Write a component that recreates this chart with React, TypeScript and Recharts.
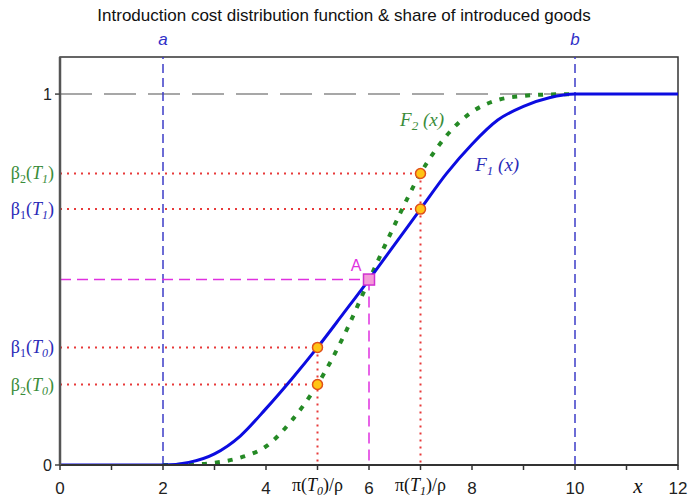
import React from 'react';
import {
  ComposedChart,
  Line,
  XAxis,
  YAxis,
  ReferenceLine,
  ReferenceDot,
  ReferenceArea,
} from 'recharts';

// ---- data ----
const xValues = [0, 1, 2, 2.5, 3, 3.5, 4, 4.5, 5, 5.5, 6, 6.5, 7, 7.5, 8, 8.5, 9, 9.5, 10, 11, 12];
const f1Values = [0, 0, 0, 0.007, 0.03, 0.078, 0.152, 0.232, 0.317, 0.408, 0.5, 0.595, 0.69, 0.785, 0.865, 0.93, 0.967, 0.99, 1, 1, 1];
const f2Values = [null, null, 0, 0.001, 0.006, 0.02, 0.05, 0.12, 0.217, 0.345, 0.498, 0.648, 0.786, 0.887, 0.952, 0.984, 0.995, 0.999, 1, null, null];

const xTicks = [0, 1, 2, 3, 4, 5, 6, 7, 8, 9, 10, 11, 12];
const yTicks = [0, 1];

const boundX = [2, 10];
const boundLabels = ['a', 'b'];

const costX = [5, 7];
const costSubs = ['0', '1'];
const beta1 = [0.317, 0.69];
const beta2 = [0.217, 0.786];

const pointA = { x: 6, y: 0.5 };

const TITLE = 'Introduction cost distribution function & share of introduced goods';

const data = xValues.map((x, i) => ({ x, f1: f1Values[i], f2: f2Values[i] }));

const SERIF = "'Liberation Serif', 'Times New Roman', serif";
const SANS = "'Liberation Sans', Arial, sans-serif";
const BLUE_TXT = '#2a2ab8';
const GREEN_TXT = '#3a8c3a';
const RED = '#e83a3a';
const MAGENTA = '#e030e0';

const betaLabel = (idx: string, sub: string, color: string) => (props: any) => {
  const vb = props.viewBox || {};
  const x = vb.x - 6;
  const y = vb.y + 6;
  return (
    <text x={x} y={y} textAnchor="end" fill={color} fontFamily={SERIF} fontSize={18}>
      <tspan>β</tspan>
      <tspan fontSize={12} dy={4}>{idx}</tspan>
      <tspan dy={-4}>(</tspan>
      <tspan fontStyle="italic">T</tspan>
      <tspan fontSize={12} fontStyle="italic" dy={4}>{sub}</tspan>
      <tspan dy={-4}>)</tspan>
    </text>
  );
};

const piLabel = (sub: string) => (props: any) => {
  const vb = props.viewBox || {};
  const x = vb.x + (vb.width || 0) / 2;
  const y = vb.y + (vb.height || 0) + 26;
  return (
    <text x={x} y={y} textAnchor="middle" fill="#111" fontFamily={SERIF} fontSize={18}>
      <tspan>π(</tspan>
      <tspan fontStyle="italic">T</tspan>
      <tspan fontSize={12} fontStyle="italic" dy={4}>{sub}</tspan>
      <tspan dy={-4}>)/ρ</tspan>
    </text>
  );
};

const boundLabel = (txt: string) => (props: any) => {
  const vb = props.viewBox || {};
  const x = vb.x + (vb.width || 0) / 2;
  const y = vb.y - 12;
  return (
    <text x={x} y={y} textAnchor="middle" fill="#3030c8" fontFamily={SANS} fontStyle="italic" fontSize={17}>
      {txt}
    </text>
  );
};

const fLabel = (idx: string, color: string) => (props: any) => {
  const vb = props.viewBox || {};
  const x = vb.x + (vb.width || 0) / 2;
  const y = vb.y + (vb.height || 0) / 2 + 6;
  return (
    <text x={x} y={y} textAnchor="middle" fill={color} fontFamily={SERIF} fontStyle="italic" fontSize={19}>
      <tspan>F</tspan>
      <tspan fontSize={13} dy={4}>{idx}</tspan>
      <tspan dy={-4}> (x)</tspan>
    </text>
  );
};

const plainLabel = (txt: string, dx: number, dy: number, color: string, family: string, size: number, italic: boolean) => (props: any) => {
  const vb = props.viewBox || {};
  const x = vb.x + (vb.width || 0) / 2 + dx;
  const y = vb.y + (vb.height || 0) / 2 + dy;
  return (
    <text x={x} y={y} textAnchor="middle" fill={color} fontFamily={family} fontStyle={italic ? 'italic' : 'normal'} fontSize={size}>
      {txt}
    </text>
  );
};

const squareShape = (p: any) => (
  <rect x={p.cx - 5.5} y={p.cy - 5.5} width={11} height={11} fill="#f49ad8" stroke="#d030d0" strokeWidth={1.5} />
);

export default function App() {
  return (
    <div style={{ position: 'absolute', left: 0, top: 0, width: 688, height: 503, background: '#fff' }}>
      <div
        style={{
          position: 'absolute',
          left: 0,
          top: 6,
          width: 688,
          textAlign: 'center',
          fontFamily: SANS,
          fontSize: 17,
          lineHeight: '20px',
          color: '#111',
        }}
      >
        {TITLE}
      </div>
      <div style={{ position: 'absolute', left: 0, top: 0 }}>
        <ComposedChart width={688} height={503} data={data} margin={{ top: 57, right: 10, bottom: 8, left: 0 }}>
          <XAxis
            dataKey="x"
            type="number"
            domain={[0, 12]}
            ticks={xTicks}
            interval={0}
            allowDataOverflow
            height={30}
            tickSize={5}
            tickMargin={12}
            tickFormatter={(v: number) => (v % 2 === 0 ? String(v) : '')}
            axisLine={{ stroke: '#333', strokeWidth: 2 }}
            tickLine={{ stroke: '#333', strokeWidth: 1.5 }}
            tick={{ fill: '#222', fontSize: 17, fontFamily: SANS }}
          />
          <YAxis
            type="number"
            domain={[0, 1.1]}
            ticks={yTicks}
            allowDataOverflow
            width={60}
            tickSize={5}
            tickMargin={3}
            axisLine={{ stroke: '#555', strokeWidth: 2.5 }}
            tickLine={{ stroke: '#444', strokeWidth: 1.5 }}
            tick={{ fill: '#222', fontSize: 16, fontFamily: SANS }}
          />
          <ReferenceArea x1={0} x2={12} y1={0} y2={1.1} fill="none" stroke="#333" strokeWidth={1.5} ifOverflow="visible" />

          <ReferenceLine
            segment={[{ x: 0, y: 1 }, { x: boundX[1], y: 1 }]}
            stroke="#8a8a8a"
            strokeWidth={1.5}
            strokeDasharray="32 12"
          />

          {boundX.map((bx, i) => (
            <ReferenceLine
              key={'b' + i}
              x={bx}
              stroke="#3c3cc8"
              strokeWidth={1.5}
              strokeDasharray="9 5"
              label={boundLabel(boundLabels[i])}
            />
          ))}

          {/* magenta lines through point A */}
          <ReferenceLine
            segment={[{ x: 0, y: pointA.y }, { x: pointA.x, y: pointA.y }]}
            stroke={MAGENTA}
            strokeWidth={1.5}
            strokeDasharray="11 6"
          />
          <ReferenceLine
            segment={[{ x: pointA.x, y: pointA.y }, { x: pointA.x, y: 0 }]}
            stroke={MAGENTA}
            strokeWidth={1.5}
            strokeDasharray="11 6"
          />

          {/* red dotted guides */}
          {costX.map((cx, i) => (
            <ReferenceLine
              key={'h1' + i}
              segment={[{ x: 0, y: beta1[i] }, { x: cx, y: beta1[i] }]}
              stroke={RED}
              strokeWidth={2}
              strokeDasharray="2 5"
              label={betaLabel('1', costSubs[i], BLUE_TXT)}
            />
          ))}
          {costX.map((cx, i) => (
            <ReferenceLine
              key={'h2' + i}
              segment={[{ x: 0, y: beta2[i] }, { x: cx, y: beta2[i] }]}
              stroke={RED}
              strokeWidth={2}
              strokeDasharray="2 5"
              label={betaLabel('2', costSubs[i], GREEN_TXT)}
            />
          ))}
          {costX.map((cx, i) => (
            <ReferenceLine
              key={'v' + i}
              segment={[{ x: cx, y: Math.max(beta1[i], beta2[i]) }, { x: cx, y: 0 }]}
              stroke={RED}
              strokeWidth={2}
              strokeDasharray="2 5"
              label={piLabel(costSubs[i])}
            />
          ))}

          <Line
            dataKey="f2"
            type="monotone"
            stroke="#258a25"
            strokeWidth={4}
            strokeDasharray="5 8"
            dot={false}
            activeDot={false}
            isAnimationActive={false}
          />
          <Line
            dataKey="f1"
            type="monotone"
            stroke="#0c0ce0"
            strokeWidth={3}
            dot={false}
            activeDot={false}
            isAnimationActive={false}
          />

          {costX.map((cx, i) => (
            <ReferenceDot key={'d1' + i} x={cx} y={beta1[i]} r={5} fill="#ffc414" stroke="#e0501a" strokeWidth={1.5} />
          ))}
          {costX.map((cx, i) => (
            <ReferenceDot key={'d2' + i} x={cx} y={beta2[i]} r={5} fill="#ffc414" stroke="#e0501a" strokeWidth={1.5} />
          ))}
          <ReferenceDot
            x={pointA.x}
            y={pointA.y}
            r={5}
            shape={squareShape}
            label={plainLabel('A', -13, -9, MAGENTA, SANS, 16, false)}
          />

          <ReferenceDot x={7.03} y={0.93} r={0} fill="none" stroke="none" label={fLabel('2', GREEN_TXT)} />
          <ReferenceDot x={8.49} y={0.81} r={0} fill="none" stroke="none" label={fLabel('1', BLUE_TXT)} />
          <ReferenceDot x={11.22} y={0} r={0} fill="none" stroke="none" label={plainLabel('x', 0, 28, '#111', SERIF, 21, true)} />
        </ComposedChart>
      </div>
    </div>
  );
}
